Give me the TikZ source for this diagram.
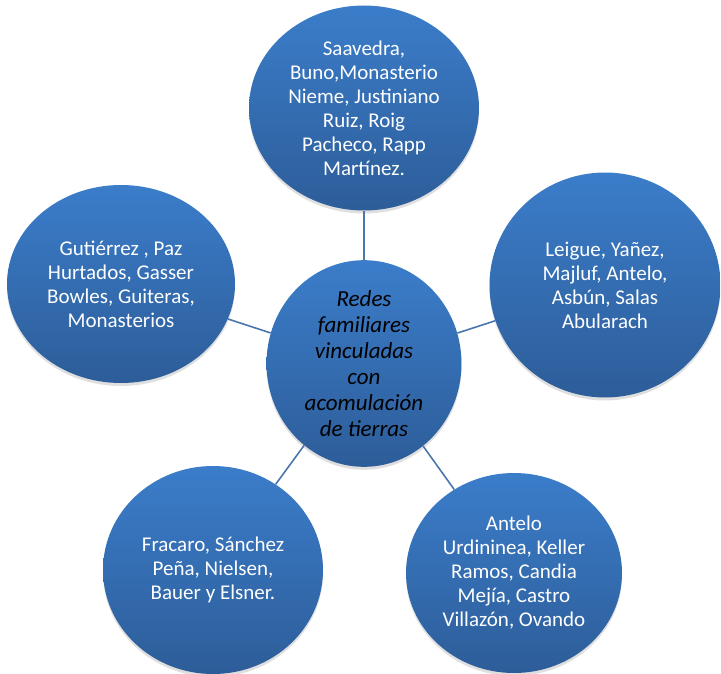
\documentclass[tikz,border=0pt]{standalone}
\usepackage{fontspec}
\setmainfont{Carlito}
\usetikzlibrary{shapes.geometric,shadows}

\definecolor{burbujaArriba}{HTML}{3B7DCA}
\definecolor{burbujaAbajo}{HTML}{2D5D99}
\definecolor{enlace}{HTML}{4A76AD}

\tikzset{
    burbuja/.style={ellipse,inner sep=0pt,align=center,text=white,
        top color=burbujaArriba,bottom color=burbujaAbajo,
        drop shadow={shadow xshift=0pt,shadow yshift=-3pt,opacity=0.25},
        font=\fontsize{21}{24}\selectfont},
    enlacelinea/.style={draw=enlace,line width=1.6pt}
}

\begin{document}
\begin{tikzpicture}[x=1pt,y=-1pt]
        \useasboundingbox (0,0) rectangle (721,674);

        % the central bubble
        \node[burbuja,minimum width=195pt,minimum height=195pt,text=black,
              font=\fontsize{23}{26}\selectfont\itshape] (redes) at (364,363.5)
              {Redes\\familiares\\vinculadas\\con\\acomulación\\de tierras};

        % the outer bubbles
        \node[burbuja,minimum width=230pt,minimum height=205pt] (norte) at (364,108)
              {Saavedra,\\Buno,Monasterio\\Nieme, Justiniano\\Ruiz, Roig\\Pacheco, Rapp\\Martínez.};
        \node[burbuja,minimum width=231pt,minimum height=225pt] (este) at (605,285)
              {Leigue, Yañez,\\Majluf, Antelo,\\Asbún, Salas\\Abularach};
        \node[burbuja,minimum width=216pt,minimum height=200pt] (sureste) at (514,573)
              {Antelo\\Urdininea, Keller\\Ramos, Candia\\Mejía, Castro\\Villazón, Ovando};
        \node[burbuja,minimum width=220pt,minimum height=208pt] (suroeste) at (213,570)
              {Fracaro, Sánchez\\Peña, Nielsen,\\Bauer y Elsner.};
        \node[burbuja,minimum width=228pt,minimum height=198pt] (oeste) at (121,284)
              {Gutiérrez , Paz\\Hurtados, Gasser\\Bowles, Guiteras,\\Monasterios};

        % connectors from the centre
        \foreach \n in {norte,este,sureste,suroeste,oeste}
                \draw[enlacelinea] (redes) -- (\n);

\end{tikzpicture}
\end{document}
